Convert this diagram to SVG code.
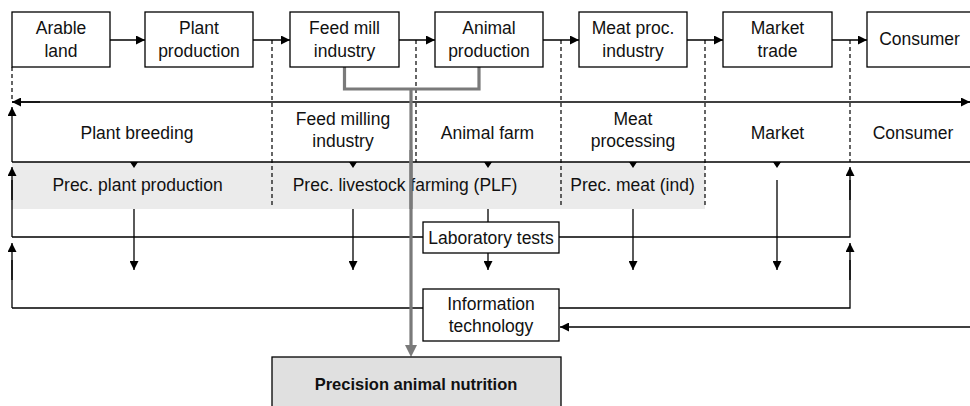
<svg xmlns="http://www.w3.org/2000/svg" width="970" height="406" viewBox="0 0 970 406">
<defs>
<marker id="ah" markerUnits="userSpaceOnUse" markerWidth="9" markerHeight="9" refX="9" refY="4.5" orient="auto">
<path d="M0,0 L9,4.5 L0,9 z" fill="#000"/>
</marker>
<style>
.box{fill:#fff;stroke:#000;stroke-width:1.3}
.ln{fill:none;stroke:#000;stroke-width:1.3}
.da{fill:none;stroke:#000;stroke-width:1.2;stroke-dasharray:4 3}
.ar{fill:none;stroke:#000;stroke-width:1.3;marker-end:url(#ah)}
.gr{fill:none;stroke:#7a7a7a;stroke-width:3.2}
text{font-family:"Liberation Sans",Arial,sans-serif;font-size:17.5px;fill:#111;text-anchor:middle}
.b{font-weight:bold;font-size:16.5px}
</style>
</defs>
<rect x="0" y="0" width="970" height="406" fill="#fff"/>
<rect x="12" y="162" width="693" height="47" fill="#ebebeb"/>

<g id="connectors">
<path class="ar" d="M110,40 H145"/>
<path class="ar" d="M253,40 H290"/>
<path class="ar" d="M399,40 H435"/>
<path class="ar" d="M543,40 H579"/>
<path class="ar" d="M687,40 H723"/>
<path class="ar" d="M832,40 H867"/>
<path class="da" d="M12,67 V100"/>
<path class="da" d="M272,40 V206"/>
<path class="da" d="M416,40 V162"/>
<path class="da" d="M561,40 V206"/>
<path class="da" d="M705,40 V206"/>
<path class="da" d="M850,40 V162"/>
<path class="ln" d="M12,102 H970"/>
<path class="ar" d="M40,102 H12"/>
<path class="ar" d="M900,102 H970"/>
<path class="ln" d="M12,162 H970"/>
<path class="ar" d="M12,162 V107"/>
<path d="M130,162 h8 l-4,6 z M349,162 h8 l-4,6 z M484,162 h8 l-4,6 z M629,162 h8 l-4,6 z M773,162 h8 l-4,6 z" fill="#000"/>
<path class="ln" d="M12,237 V180 M12,237 H423 M559,237 H850 V180"/>
<path class="ar" d="M12,200 V167"/>
<path class="ar" d="M850,200 V167"/>
<path class="ln" d="M12,308 V260 M12,308 H423 M559,308 H850 V260"/>
<path class="ar" d="M12,280 V243"/>
<path class="ar" d="M850,280 V243"/>
<path class="ar" d="M134,209 V270"/>
<path class="ar" d="M353,209 V270"/>
<path class="ln" d="M488,209 V222"/>
<path class="ar" d="M488,253 V270"/>
<path class="ar" d="M633,209 V270"/>
<path class="ar" d="M777,180 V270"/>
<path class="ar" d="M970,327 H560"/>
<path class="gr" d="M344.5,67 V89 H479 V67"/>
<path class="gr" d="M411,89 V346"/>
<path d="M405,345 H417 L411,357 z" fill="#7a7a7a"/>
</g>

<g id="arable"><rect class="box" x="12" y="12" width="98" height="55"/><text x="61" y="34">Arable</text><text x="61" y="57">land</text></g>
<g id="plant"><rect class="box" x="145" y="12" width="108" height="55"/><text x="199" y="34">Plant</text><text x="199" y="57">production</text></g>
<g id="feedmill"><rect class="box" x="290" y="12" width="109" height="55"/><text x="344.5" y="34">Feed mill</text><text x="344.5" y="57">industry</text></g>
<g id="animal"><rect class="box" x="435" y="12" width="108" height="55"/><text x="489" y="34">Animal</text><text x="489" y="57">production</text></g>
<g id="meatproc"><rect class="box" x="579" y="12" width="108" height="55"/><text x="633" y="34">Meat proc.</text><text x="633" y="57">industry</text></g>
<g id="market"><rect class="box" x="723" y="12" width="109" height="55"/><text x="777.5" y="34">Market</text><text x="777.5" y="57">trade</text></g>
<g id="consumer"><rect class="box" x="867" y="12" width="110" height="55"/><text x="919.5" y="45">Consumer</text></g>

<g id="row-labels">
<text x="137" y="139">Plant breeding</text>
<text x="343" y="125">Feed milling</text><text x="343" y="147">industry</text>
<text x="487.5" y="139">Animal farm</text>
<text x="633" y="125">Meat</text><text x="633" y="147">processing</text>
<text x="777.5" y="139">Market</text>
<text x="913" y="139">Consumer</text>
</g>
<g id="prec-labels">
<text x="137.5" y="191">Prec. plant production</text>
<text x="405" y="191">Prec. livestock farming (PLF)</text>
<text x="632.5" y="191">Prec. meat (ind)</text>
</g>
<path class="gr" d="M411,150 V209"/>

<g id="lab"><rect class="box" x="423" y="222" width="136" height="31"/><text x="491" y="244">Laboratory tests</text></g>
<g id="it"><rect class="box" x="423" y="289" width="136" height="52"/><text x="491" y="310">Information</text><text x="491" y="332">technology</text></g>
<g id="pan"><rect x="272" y="357" width="289" height="60" fill="#e0e0e0" stroke="#000" stroke-width="1.3"/><text class="b" x="416" y="390">Precision animal nutrition</text></g>
</svg>
